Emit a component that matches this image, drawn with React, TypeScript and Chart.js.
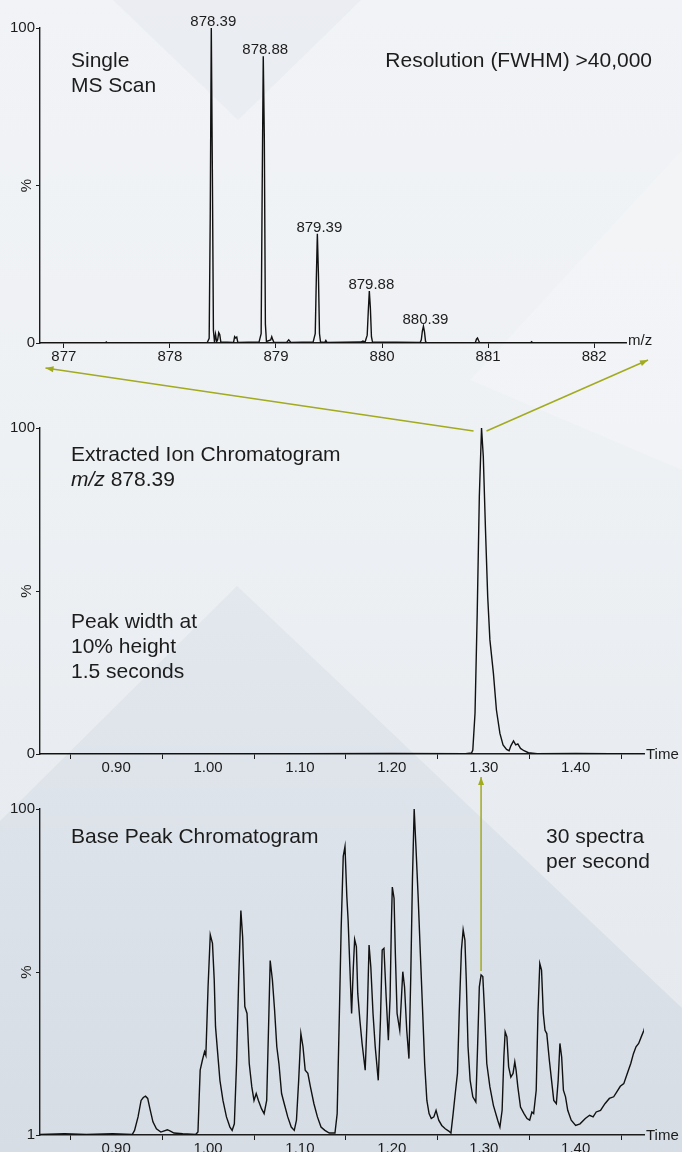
import React, { useEffect, useRef } from 'react';
import { Chart, registerables } from 'chart.js';

Chart.register(...registerables);

const FONT = "'Liberation Sans', Arial, Helvetica, sans-serif";
const INK = '#1c1c1c';
const ARROW = '#a2aa1e';

// ---------- Single MS scan (m/z, %) ----------
const spectrum: [number, number][] = [
  [876.775, 0], [877.39, 0], [877.4, 0.3], [877.41, 0], [877.9, 0.1], [878.35, 0],
  [878.37, 1.5], [878.38, 40], [878.39, 100], [878.4, 55], [878.41, 4], [878.42, 0.4],
  [878.43, 2.8], [878.44, 0.4], [878.45, 1], [878.46, 3.3], [878.47, 2.6], [878.48, 0.3],
  [878.6, 0.2], [878.61, 2], [878.62, 1.6], [878.63, 1.9], [878.64, 0.2],
  [878.84, 0.3], [878.86, 3], [878.87, 50], [878.88, 91], [878.89, 65], [878.9, 6], [878.91, 0.5],
  [878.95, 1], [878.96, 2], [878.97, 1], [878.98, 0.2],
  [879.1, 0.2], [879.12, 1], [879.14, 0.2],
  [879.35, 0.3], [879.37, 3], [879.38, 20], [879.39, 34.7], [879.4, 22], [879.41, 3], [879.42, 0.3],
  [879.46, 0.2], [879.47, 0.8], [879.48, 0.2],
  [879.8, 0.3], [879.82, 0.6], [879.84, 0.3], [879.86, 2.5], [879.87, 10], [879.88, 16.5],
  [879.89, 11], [879.9, 2], [879.91, 0.3],
  [880.36, 0.2], [880.37, 1], [880.38, 3.8], [880.39, 5.3], [880.4, 3.5], [880.41, 0.5], [880.42, 0.1],
  [880.88, 0.2], [880.89, 1.2], [880.9, 1.6], [880.91, 0.8], [880.92, 0.1],
  [881.4, 0.1], [881.41, 0.4], [881.42, 0.1], [882.3, 0],
];
const peakLabels = ['878.39', '878.88', '879.39', '879.88', '880.39'];
const mzTicks = [877, 878, 879, 880, 881, 882];
const mzRange = [876.775, 882.3];

// ---------- Extracted ion chromatogram (time, %) ----------
const xic: [number, number][] = [
  [0.8171, 0], [0.9, 0.1], [1.0, 0.1], [1.1, 0.1], [1.2, 0.2], [1.28, 0.1],
  [1.2867, 0.3], [1.2881, 1.2], [1.2905, 12.5], [1.2929, 43.2], [1.2952, 79.0], [1.2976, 100],
  [1.2995, 91.3], [1.3019, 68.8], [1.3043, 48.3], [1.3067, 35.0], [1.3105, 24.8], [1.3138, 13.5],
  [1.3176, 6.3], [1.321, 2.8], [1.3248, 1.4], [1.3276, 1.0], [1.3295, 2.5], [1.3324, 4.0],
  [1.3348, 2.8], [1.3371, 3.1], [1.34, 1.7], [1.3438, 1.0], [1.3486, 0.4], [1.3581, 0.1],
  [1.4, 0.2], [1.4744, 0],
];

// ---------- Base peak chromatogram (time, %) ----------
const bpc: [number, number][] = [
  [0.8171, 1.2], [0.8438, 1.4], [0.8676, 1.2], [0.8962, 1.4], [0.9176, 1.2], [0.92, 2.4],
  [0.9238, 6.5], [0.9271, 11.5], [0.9295, 12.4], [0.9319, 12.8], [0.9343, 12.1], [0.9367, 9.0],
  [0.94, 5.0], [0.9438, 2.9], [0.9486, 1.9], [0.9557, 2.6], [0.959, 2.2], [0.9629, 1.6],
  [0.9724, 1.4], [0.9867, 1.2], [0.989, 1.9], [0.9914, 20.7], [0.9938, 23.7], [0.9962, 26.3],
  [0.9976, 25.2], [1.0, 46.0], [1.0024, 61.8], [1.0048, 59.2], [1.0067, 48.1], [1.0081, 33.9],
  [1.0105, 25.7], [1.0129, 17.6], [1.0162, 11.5], [1.02, 6.5], [1.0238, 3.4], [1.0262, 2.4],
  [1.0286, 4.4], [1.031, 22.7], [1.0333, 48.1], [1.0357, 69.2], [1.0376, 61.3], [1.04, 40.0],
  [1.0424, 37.9], [1.0448, 22.7], [1.0476, 15.6], [1.05, 11.5], [1.0524, 13.6], [1.0548, 11.5],
  [1.0581, 9.0], [1.061, 7.5], [1.0638, 11.5], [1.0662, 37.9], [1.0676, 54.0], [1.07, 48.1],
  [1.0724, 38.9], [1.0748, 27.8], [1.0771, 22.7], [1.08, 13.6], [1.0829, 10.5], [1.0867, 6.5],
  [1.0905, 3.4], [1.0938, 2.4], [1.0962, 5.5], [1.0986, 17.6], [1.101, 31.8], [1.1033, 27.8],
  [1.1057, 20.7], [1.1086, 19.7], [1.1114, 15.6], [1.1152, 10.5], [1.119, 6.5], [1.1229, 3.4],
  [1.1271, 2.4], [1.1319, 1.6], [1.1381, 1.6], [1.1405, 7.5], [1.1429, 37.9], [1.1448, 63.3],
  [1.1471, 85.6], [1.149, 88.6], [1.151, 73.4], [1.1524, 66.3], [1.1543, 52.1], [1.1562, 37.9],
  [1.1581, 52.1], [1.1595, 60.4], [1.1614, 58.2], [1.1629, 44.0], [1.1652, 35.9], [1.1676, 28.8],
  [1.171, 20.7], [1.1733, 37.9], [1.1752, 58.7], [1.1771, 52.1], [1.1795, 37.9], [1.1819, 27.8],
  [1.1852, 17.6], [1.1876, 35.9], [1.1895, 57.2], [1.1914, 57.7], [1.1938, 43.0], [1.1962, 29.8],
  [1.1981, 43.0], [1.1995, 65.3], [1.2005, 76.3], [1.2024, 72.9], [1.2038, 56.2], [1.2057, 37.9],
  [1.2086, 32.8], [1.2105, 43.0], [1.2119, 50.6], [1.2138, 46.0], [1.2162, 32.8], [1.2186, 24.2],
  [1.2205, 48.1], [1.2224, 78.5], [1.2243, 100], [1.2262, 88.6], [1.2286, 73.4], [1.231, 56.2],
  [1.2333, 40.0], [1.2357, 22.7], [1.2381, 11.5], [1.2405, 7.5], [1.2429, 6.0], [1.2457, 6.5],
  [1.2481, 8.5], [1.251, 5.5], [1.2543, 3.9], [1.2581, 2.9], [1.2619, 2.2], [1.2643, 1.6],
  [1.2667, 7.5], [1.269, 13.6], [1.2714, 19.7], [1.2733, 37.9], [1.2757, 57.2], [1.2776, 63.3],
  [1.2795, 60.2], [1.281, 48.1], [1.2829, 27.8], [1.2852, 17.6], [1.2881, 12.6], [1.2914, 11.0],
  [1.2933, 27.8], [1.2952, 46.0], [1.2971, 49.6], [1.299, 49.1], [1.301, 37.9], [1.3033, 22.7],
  [1.3067, 15.6], [1.3105, 10.0], [1.3152, 5.5], [1.3176, 3.4], [1.32, 8.5], [1.3219, 24.7],
  [1.3233, 32.3], [1.3252, 30.8], [1.3271, 21.7], [1.3295, 18.6], [1.3319, 19.7], [1.3338, 23.2],
  [1.3352, 20.7], [1.3371, 15.6], [1.34, 9.5], [1.3438, 7.5], [1.3471, 6.0], [1.35, 5.5],
  [1.3524, 8.0], [1.3543, 7.5], [1.3571, 14.6], [1.359, 37.9], [1.361, 53.1], [1.3629, 51.1],
  [1.3648, 37.9], [1.3667, 32.8], [1.3686, 31.8], [1.3714, 23.7], [1.3738, 17.6], [1.3762, 11.5],
  [1.379, 10.5], [1.381, 17.6], [1.3829, 28.8], [1.3848, 24.7], [1.3867, 14.6], [1.389, 12.6],
  [1.3914, 8.5], [1.3952, 5.5], [1.4, 3.9], [1.4048, 4.4], [1.4105, 6.0], [1.4152, 7.0],
  [1.419, 6.5], [1.4224, 8.0], [1.4271, 8.5], [1.4319, 10.5], [1.4367, 12.1], [1.4414, 12.6],
  [1.4448, 14.1], [1.4486, 15.8], [1.4524, 16.6], [1.4562, 19.7], [1.46, 22.7], [1.4629, 25.7],
  [1.4657, 27.8], [1.4686, 28.8], [1.4714, 30.8], [1.4743, 32.8], [1.4771, 35.4],
];
const timeRange = [0.8171, 1.4744];
const timeLabels = [0.9, 1.0, 1.1, 1.2, 1.3, 1.4];
const timeMarks = [0.85, 0.95, 1.05, 1.15, 1.25, 1.35, 1.45];
const pctTicks = [0, 50, 100];
const pctTickLabels = ['0', '', '100'];
const bpcTicks = [1, 50.5, 100];
const bpcTickLabels = ['1', '', '100'];

// page layout of the three panels
const PANELS = [
  { top: 0, height: 385 },
  { top: 385, height: 395 },
  { top: 780, height: 372 },
];

function yScale(min: number, max: number, ticks: number[], labels: string[]) {
  return {
    type: 'linear',
    min,
    max,
    afterBuildTicks: (s: any) => {
      s.ticks = ticks.map((v) => ({ value: v }));
    },
    afterFit: (s: any) => {
      s.width = 40;
    },
    ticks: {
      padding: 1,
      color: INK,
      font: { family: FONT, size: 15 },
      callback: (v: any) => {
        const i = ticks.indexOf(Number(v));
        return i >= 0 ? labels[i] : '';
      },
    },
    grid: { display: true, drawOnChartArea: false, drawTicks: true, tickLength: 4, tickColor: INK, tickWidth: 1 },
    border: { display: true, color: INK, width: 1.4 },
  };
}

function timeScale(height: number) {
  const all = [...timeMarks, ...timeLabels].sort((a, b) => a - b);
  const isLabel = (v: number) => timeLabels.some((t) => Math.abs(t - v) < 1e-6);
  return {
    type: 'linear',
    min: timeRange[0],
    max: timeRange[1],
    afterBuildTicks: (s: any) => {
      s.ticks = all.map((v) => ({ value: v }));
    },
    afterFit: (s: any) => {
      s.height = height;
    },
    ticks: {
      autoSkip: false,
      maxRotation: 0,
      padding: 0,
      color: INK,
      font: { family: FONT, size: 15 },
      callback: (v: any) => (isLabel(Number(v)) ? Number(v).toFixed(2) : ''),
    },
    grid: {
      display: true,
      drawOnChartArea: false,
      drawTicks: true,
      tickLength: 5,
      tickWidth: 1,
      tickColor: (ctx: any) => (ctx.tick && isLabel(ctx.tick.value) ? 'rgba(0,0,0,0)' : INK),
    },
    border: { display: true, color: INK, width: 1.4 },
  };
}

function lineDataset(points: [number, number][]) {
  return {
    data: points.map(([x, y]) => ({ x, y })),
    borderColor: '#111',
    borderWidth: 1.4,
    pointRadius: 0,
    tension: 0,
    fill: false,
  };
}

function textPlugin(id: string, draw: (ctx: CanvasRenderingContext2D, chart: any) => void) {
  return {
    id,
    afterDraw(chart: any) {
      const ctx = chart.ctx as CanvasRenderingContext2D;
      ctx.save();
      ctx.fillStyle = INK;
      draw(ctx, chart);
      ctx.restore();
    },
  };
}

function drawPercent(ctx: CanvasRenderingContext2D, chart: any) {
  const a = chart.chartArea;
  ctx.save();
  ctx.font = `15px ${FONT}`;
  ctx.translate(a.left - 13, (a.top + a.bottom) / 2);
  ctx.rotate(-Math.PI / 2);
  ctx.textAlign = 'center';
  ctx.textBaseline = 'middle';
  ctx.fillText('%', 0, 0);
  ctx.restore();
}

function drawAxisName(ctx: CanvasRenderingContext2D, chart: any, name: string, dy: number) {
  const a = chart.chartArea;
  ctx.font = `15px ${FONT}`;
  ctx.textAlign = 'left';
  ctx.textBaseline = 'middle';
  ctx.fillText(name, a.right + 2, a.bottom + dy);
}

function note(ctx: CanvasRenderingContext2D, lines: string[], x: number, y: number, align: CanvasTextAlign = 'left') {
  ctx.font = `21px ${FONT}`;
  ctx.textAlign = align;
  ctx.textBaseline = 'alphabetic';
  lines.forEach((l, i) => ctx.fillText(l, x, y + i * 25));
}

function arrow(ctx: CanvasRenderingContext2D, x1: number, y1: number, x2: number, y2: number) {
  ctx.beginPath();
  ctx.moveTo(x1, y1);
  ctx.lineTo(x2, y2);
  ctx.stroke();
  const ang = Math.atan2(y2 - y1, x2 - x1);
  const L = 8;
  const W = 3;
  ctx.beginPath();
  ctx.moveTo(x2, y2);
  ctx.lineTo(x2 - L * Math.cos(ang) + W * Math.sin(ang), y2 - L * Math.sin(ang) - W * Math.cos(ang));
  ctx.lineTo(x2 - L * Math.cos(ang) - W * Math.sin(ang), y2 - L * Math.sin(ang) + W * Math.cos(ang));
  ctx.closePath();
  ctx.fill();
}

function localMax(points: [number, number][], center: number, half: number): [number, number] {
  let best: [number, number] = [center, -Infinity];
  for (const p of points) {
    if (Math.abs(p[0] - center) <= half && p[1] > best[1]) best = p;
  }
  return best;
}

export default function App() {
  const r1 = useRef<HTMLCanvasElement>(null);
  const r2 = useRef<HTMLCanvasElement>(null);
  const r3 = useRef<HTMLCanvasElement>(null);
  const ov = useRef<HTMLCanvasElement>(null);

  useEffect(() => {
    const common = {
      responsive: false,
      animation: false,
      devicePixelRatio: 1,
      plugins: { legend: { display: false }, tooltip: { enabled: false } },
    };

    const c1 = new Chart(r1.current!, {
      type: 'line',
      data: { datasets: [lineDataset(spectrum) as any] },
      options: {
        ...common,
        layout: { padding: { top: 28, right: 56, bottom: 0, left: 0 } },
        scales: {
          x: {
            type: 'linear',
            min: mzRange[0],
            max: mzRange[1],
            afterBuildTicks: (s: any) => {
              s.ticks = mzTicks.map((v) => ({ value: v }));
            },
            afterFit: (s: any) => {
              s.height = PANELS[0].height - 343;
            },
            ticks: {
              autoSkip: false,
              maxRotation: 0,
              padding: 0,
              color: INK,
              font: { family: FONT, size: 15 },
              callback: (v: any) => String(v),
            },
            grid: { display: true, drawOnChartArea: false, drawTicks: true, tickLength: 5, tickWidth: 1, tickColor: INK },
            border: { display: true, color: INK, width: 1.4 },
          } as any,
          y: yScale(0, 100, pctTicks, pctTickLabels) as any,
        },
      } as any,
      plugins: [
        textPlugin('notes1', (ctx, chart) => {
          drawPercent(ctx, chart);
          drawAxisName(ctx, chart, 'm/z', -2);
          const sx = chart.scales.x;
          const sy = chart.scales.y;
          ctx.font = `15px ${FONT}`;
          ctx.textAlign = 'center';
          ctx.textBaseline = 'alphabetic';
          peakLabels.forEach((lab) => {
            const [mx, my] = localMax(spectrum, parseFloat(lab), 0.03);
            ctx.fillText(lab, sx.getPixelForValue(mx) + 2, sy.getPixelForValue(my) - 2);
          });
          note(ctx, ['Single', 'MS Scan'], 71, 67);
          note(ctx, ['Resolution (FWHM) >40,000'], 652, 67, 'right');
        }),
      ],
    });

    const c2 = new Chart(r2.current!, {
      type: 'line',
      data: { datasets: [lineDataset(xic) as any] },
      options: {
        ...common,
        layout: { padding: { top: 43, right: 38, bottom: 0, left: 0 } },
        scales: {
          x: timeScale(PANELS[1].height - 369) as any,
          y: yScale(0, 100, pctTicks, pctTickLabels) as any,
        },
      } as any,
      plugins: [
        textPlugin('notes2', (ctx, chart) => {
          drawPercent(ctx, chart);
          drawAxisName(ctx, chart, 'Time', 1);
          note(ctx, ['Extracted Ion Chromatogram'], 71, 76);
          ctx.font = `italic 21px ${FONT}`;
          ctx.fillText('m/z', 71, 101);
          const w = ctx.measureText('m/z ').width;
          ctx.font = `21px ${FONT}`;
          ctx.fillText('878.39', 71 + w, 101);
          note(ctx, ['Peak width at', '10% height', '1.5 seconds'], 71, 243);
        }),
      ],
    });

    const c3 = new Chart(r3.current!, {
      type: 'line',
      data: { datasets: [lineDataset(bpc) as any] },
      options: {
        ...common,
        layout: { padding: { top: 29, right: 38, bottom: 0, left: 0 } },
        scales: {
          x: timeScale(PANELS[2].height - 355) as any,
          y: yScale(1, 100, bpcTicks, bpcTickLabels) as any,
        },
      } as any,
      plugins: [
        textPlugin('notes3', (ctx, chart) => {
          drawPercent(ctx, chart);
          drawAxisName(ctx, chart, 'Time', 1);
          note(ctx, ['Base Peak Chromatogram'], 71, 63);
          note(ctx, ['30 spectra', 'per second'], 546, 63);
        }),
      ],
    });

    // overlay arrows linking the panels, anchored on the charts' own scales
    const o = ov.current!;
    const ctx = o.getContext('2d')!;
    ctx.clearRect(0, 0, o.width, o.height);
    ctx.strokeStyle = ARROW;
    ctx.fillStyle = ARROW;
    ctx.lineWidth = 1.5;
    const a1 = c1.chartArea;
    const a2 = c2.chartArea;
    const [xt, xv] = localMax(xic, 1.3, 0.05);
    const px2 = c2.scales.x.getPixelForValue(xt);
    const py2 = PANELS[1].top + c2.scales.y.getPixelForValue(xv);
    arrow(ctx, px2 - 8, py2 + 3, a1.left + 5.5, PANELS[0].top + a1.bottom + 25);
    arrow(ctx, px2 + 5, py2 + 3, a1.right + 22, PANELS[0].top + a1.bottom + 17);
    const [bt, bv] = localMax(bpc, 1.297, 0.004);
    const px3 = c3.scales.x.getPixelForValue(bt);
    const py3 = PANELS[2].top + c3.scales.y.getPixelForValue(bv);
    arrow(ctx, px3, py3 - 4, px3, PANELS[1].top + a2.bottom + 23);

    return () => {
      c1.destroy();
      c2.destroy();
      c3.destroy();
    };
  }, []);

  const shape = (points: string, background: string): React.CSSProperties => ({
    position: 'absolute',
    left: 0,
    top: 0,
    width: 682,
    height: 1152,
    clipPath: `polygon(${points})`,
    background,
  });

  return (
    <div
      style={{
        position: 'absolute',
        left: 0,
        top: 0,
        width: 682,
        height: 1152,
        overflow: 'hidden',
        background: 'linear-gradient(180deg, #f1f3f6 0%, #eef1f4 40%, #e9edf1 65%, #e5e9ee 100%)',
      }}
    >
      <div style={shape('113px 0px, 361px 0px, 238px 120px', 'rgba(214,220,228,0.22)')} />
      <div style={shape('682px 150px, 470px 380px, 682px 470px', 'rgba(255,255,255,0.18)')} />
      <div
        style={shape(
          '237px 586px, 0px 821px, 0px 1152px, 682px 1152px, 682px 1008px',
          'linear-gradient(180deg, #e3e8ee 50%, #dce2e9 75%, #d6dde5 100%)'
        )}
      />
      {PANELS.map((p, i) => (
        <canvas
          key={i}
          ref={[r1, r2, r3][i]}
          width={682}
          height={p.height}
          style={{ position: 'absolute', left: 0, top: p.top, width: 682, height: p.height }}
        />
      ))}
      <canvas
        ref={ov}
        width={682}
        height={1152}
        style={{ position: 'absolute', left: 0, top: 0, width: 682, height: 1152, pointerEvents: 'none' }}
      />
    </div>
  );
}
